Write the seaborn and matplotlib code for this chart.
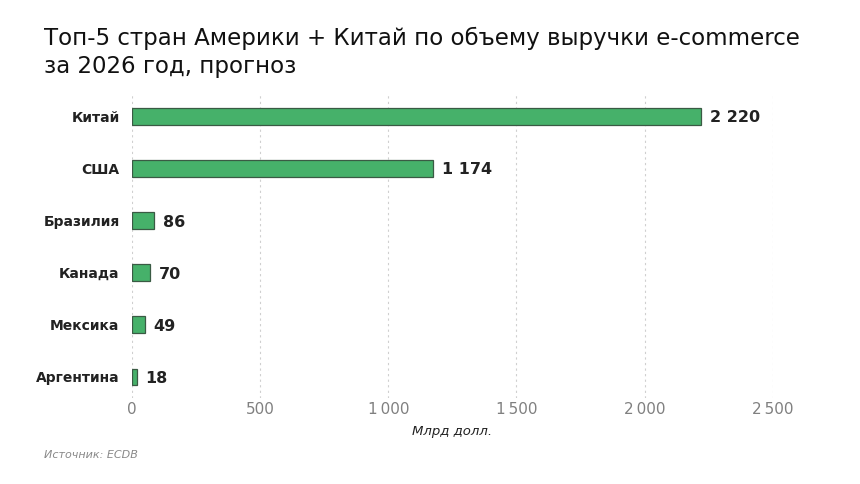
import pandas as pd
import seaborn as sns
import matplotlib.pyplot as plt
from matplotlib.ticker import FuncFormatter

# Revenue forecast, bn USD
countries = ['Китай', 'США', 'Бразилия', 'Канада', 'Мексика', 'Аргентина']
revenue = [2220, 1174, 86, 70, 49, 18]

df = pd.DataFrame({'country': countries, 'revenue': revenue})

sns.set_theme(style='white')
plt.rcParams['font.family'] = ['DejaVu Sans']

fig = plt.figure(figsize=(8.6, 4.84), dpi=100)
ax = fig.add_axes([0.1535, 0.178, 0.745, 0.625])

sns.barplot(data=df, x='revenue', y='country', color='#46b16a',
            width=0.32, edgecolor='#3a5a44', linewidth=0.9, saturation=1, ax=ax)

ax.set_xlim(0, 2500)
ax.set_ylim(5.4, -0.4)
ax.set_xticks([0, 500, 1000, 1500, 2000, 2500])
ax.xaxis.set_major_formatter(FuncFormatter(lambda v, p: f'{int(v):,}'.replace(',', '\u2009')))
ax.grid(axis='x', color='#cfcfcf', linestyle=(0, (2, 3)), linewidth=0.8)
ax.set_axisbelow(True)
for s in ax.spines.values():
    s.set_visible(False)

ax.tick_params(axis='x', colors='#808080', labelsize=11, length=0, pad=3)
ax.tick_params(axis='y', length=0, pad=9)
for lbl in ax.get_yticklabels():
    lbl.set_fontweight('bold')
    lbl.set_fontsize(10)
    lbl.set_color('#222222')

# value labels
for i, v in enumerate(revenue):
    ax.text(v + 35, i + 0.03, f'{v:,}'.replace(',', ' '), va='center', ha='left',
            fontsize=11.5, fontweight='bold', color='#222222')

ax.set_ylabel('')
ax.set_xlabel('Млрд долл.', fontsize=9.5, style='italic', color='#222222', labelpad=6)

fig.text(0.051, 0.892, 'Топ-5 стран Америки + Китай по объему выручки e-commerce\nза 2026 год, прогноз',
         fontsize=16.5, color='#111111', va='center', ha='left', linespacing=1.3)
fig.text(0.051, 0.054, 'Источник: ECDB', fontsize=8, style='italic', color='#888888')

fig.savefig('out.png', dpi=100)
